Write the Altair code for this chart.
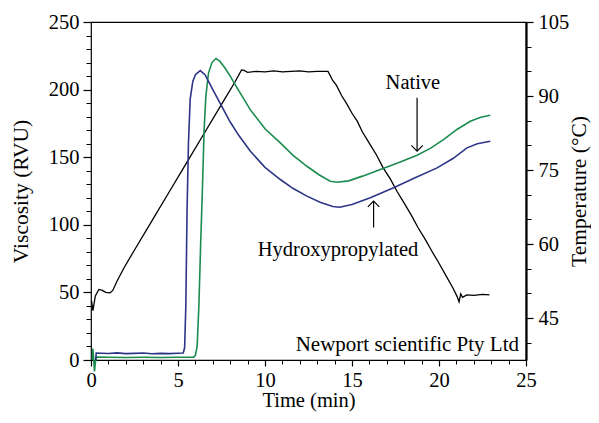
import altair as alt
import pandas as pd

# ---------------- data ----------------
temp_time = [0.03, 0.11, 0.25, 0.45, 0.65, 0.85, 1.1, 1.25, 1.5, 1.9, 2.5, 3.5, 4.5, 5.5, 6.5,
             7.5, 8.3, 8.65, 8.8, 9.0, 9.5, 10.0, 10.5, 11.0, 11.5, 12.0, 12.5, 13.0, 13.62,
             13.9, 14.1, 14.4, 14.7, 15.0, 15.3, 15.6, 16.0, 16.4, 16.8, 17.2, 17.6, 18.0,
             18.4, 18.8, 19.2, 19.6, 20.0, 20.4, 20.8, 21.05, 21.15, 21.25, 21.35, 21.6, 22.0,
             22.5, 22.9]
temp_vals = [48.5, 46.5, 49.5, 50.8, 50.6, 50.2, 50.1, 50.6, 52.5, 55.2, 58.8, 64.7, 70.6, 76.5,
             82.4, 88.3, 93.0, 95.3, 95.2, 94.8, 95.0, 94.9, 95.1, 94.9, 95.0, 95.1, 94.9, 95.0,
             95.0, 93.1, 92.2, 90.1, 88.4, 86.5, 84.9, 82.7, 80.4, 78.1, 75.4, 73.2, 70.6, 68.3,
             65.9, 63.3, 61.0, 58.5, 56.1, 53.6, 51.1, 49.3, 48.3, 49.9, 49.2, 49.7, 49.6, 49.8,
             49.7]

hp_time = [0.27, 0.3, 0.6, 1.0, 1.5, 2.0, 2.5, 3.0, 3.5, 4.0, 4.5, 5.0, 5.3, 5.38, 5.45, 5.52,
           5.6, 5.7, 5.85, 6.0, 6.28, 6.55, 6.8, 7.0, 7.5, 8.0, 8.5, 9.16, 10.0, 10.88, 11.6,
           12.41, 13.2, 13.9, 14.3, 15.0, 16.05, 17.39, 18.5, 19.89, 20.8, 21.61, 22.2, 22.95]
hp_visc = [0, 5.2, 5.0, 4.8, 5.3, 4.7, 4.9, 5.2, 4.6, 4.9, 4.7, 5.0, 5.2, 9, 40, 110, 160, 193,
           206, 211, 214, 211, 205, 200, 188, 176, 166, 154.4, 142.5, 133.5, 127, 121.2, 116.5,
           113.5, 113, 115, 120, 127.4, 134, 142.1, 149, 156.9, 160, 161.8]

nat_time = [0.08, 0.1, 0.15, 0.2, 0.25, 0.32, 1.0, 2.0, 3.0, 4.0, 5.0, 5.9, 6.0, 6.1, 6.2, 6.3,
            6.4, 6.5, 6.6, 6.75, 6.95, 7.18, 7.4, 7.7, 8.0, 8.5, 9.16, 10.0, 10.88, 11.6, 12.41,
            13.1, 13.75, 14.14, 14.8, 15.6, 16.63, 17.7, 18.74, 19.5, 20.26, 21.03, 21.8, 22.4,
            22.95]
nat_visc = [0, 8.5, 2, -8.5, -2, 2.2, 2.0, 1.9, 2.0, 1.9, 2.0, 2.1, 3.5, 10, 40, 85, 125, 170,
            195, 212, 220, 223, 221, 216, 210, 199, 185, 171, 160.6, 151.5, 143.3, 137, 132.2,
            131.5, 132.5, 136, 140.9, 146, 151.5, 156.5, 163, 170.5, 176.6, 179.5, 181]

x_major = [0, 5, 10, 15, 20, 25]
x_minor = list(range(0, 26))
visc_major = [0, 50, 100, 150, 200, 250]
visc_minor = list(range(0, 251, 10))
temp_major = [45, 60, 75, 90, 105]
temp_minor = list(range(40, 106, 5))

labels_text = ["Native", "Hydroxypropylated", "Newport scientific Pty Ltd"]
labels_t = [18.5, 14.2, 24.6]
labels_v = [205, 81, 11]
labels_align = ["center", "center", "right"]

arrow_t = [18.74, 16.24]
arrow_tail = [194, 98]
arrow_tip = [154.5, 117.5]
arrow_dir = ["down", "up"]

# ---------------- tables ----------------
df_temp = pd.DataFrame({"t": temp_time, "v": temp_vals})
df_hp = pd.DataFrame({"t": hp_time, "v": hp_visc})
df_nat = pd.DataFrame({"t": nat_time, "v": nat_visc})
df_lab = pd.DataFrame({"text": labels_text, "t": labels_t, "v": labels_v, "align": labels_align})
df_arr = pd.DataFrame({"t": arrow_t, "tail": arrow_tail, "tip": arrow_tip, "dir": arrow_dir})

FONT = "Liberation Serif"
XD = [0, 25]
VD = [0, 250]
TD = [36.5, 105]

def xs(axis=None):
    return alt.X("t:Q", scale=alt.Scale(domain=XD, nice=False, zero=False), axis=axis)

def ys(field, dom, axis=None):
    return alt.Y(f"{field}:Q", scale=alt.Scale(domain=dom, nice=False, zero=False), axis=axis)

common_lab = dict(labelFont=FONT, titleFont=FONT, titleFontWeight="normal", labelFlush=False,
                  labelColor="black", titleColor="black", tickColor="black", grid=False)

x_major_axis = alt.Axis(values=x_major, title="Time (min)", tickSize=6, labelFontSize=20.5,
                        titleFontSize=20.5, labelPadding=4, titlePadding=0, domain=False,
                        tickWidth=1.2, orient="bottom", **common_lab)
x_minor_axis = alt.Axis(values=x_minor, title=None, tickSize=4, labels=False, domain=False,
                        grid=False, tickColor="black", tickWidth=1, orient="bottom")
v_major_axis = alt.Axis(values=visc_major, title="Viscosity (RVU)", tickSize=8, labelFontSize=20.5,
                        titleFontSize=21.5, labelPadding=4, titlePadding=16, domain=False,
                        tickWidth=1.2, orient="left", **common_lab)
v_minor_axis = alt.Axis(values=visc_minor, title=None, tickSize=5, labels=False, domain=False,
                        grid=False, tickColor="black", tickWidth=1, orient="left")
t_major_axis = alt.Axis(values=temp_major, title="Temperature (°C)", tickSize=7, labelFontSize=20.5,
                        titleFontSize=21.5, labelPadding=5, titlePadding=22, titleAngle=270,
                        domain=True, domainWidth=2.2, domainColor="black",
                        tickWidth=1.2, orient="right", **common_lab)
t_minor_axis = alt.Axis(values=temp_minor, title=None, tickSize=5, labels=False, domain=False,
                        grid=False, tickColor="black", tickWidth=1, orient="right")

hp = alt.Chart(df_hp).mark_line(color="#2d3586", strokeWidth=1.6).encode(
    x=xs(x_major_axis), y=ys("v", VD, v_major_axis), order="t:Q")
nat = alt.Chart(df_nat).mark_line(color="#1c8b4f", strokeWidth=1.6).encode(
    x=xs(x_minor_axis), y=ys("v", VD, v_minor_axis), order="t:Q")
temp = alt.Chart(df_temp).mark_line(color="black", strokeWidth=1.3).encode(
    x=xs(), y=ys("v", TD, t_major_axis), order="t:Q")
temp_ticks = alt.Chart(df_temp).mark_line(strokeOpacity=0).encode(
    x=xs(), y=ys("v", TD, t_minor_axis), order="t:Q")

texts_c = alt.Chart(df_lab).transform_filter(alt.datum.align == "center").mark_text(
    font=FONT, fontSize=20.5, color="black", baseline="middle", align="center").encode(
    x=xs(), y=ys("v", VD), text="text:N")
texts_r = alt.Chart(df_lab).transform_filter(alt.datum.align == "right").mark_text(
    font=FONT, fontSize=21, color="black", baseline="middle", align="right").encode(
    x=xs(), y=ys("v", VD), text="text:N")

shafts = alt.Chart(df_arr).mark_rule(color="black", strokeWidth=1.2).encode(
    x=xs(), y=ys("tail", VD), y2="tip:Q")
head_down = alt.Chart(df_arr).transform_filter(alt.datum.dir == "down").mark_point(
    shape="M -1 -1 L 0 0 L 1 -1", filled=False, color="black", strokeWidth=1.2, size=130,
    opacity=1).encode(x=xs(), y=ys("tip", VD))
head_up = alt.Chart(df_arr).transform_filter(alt.datum.dir == "up").mark_point(
    shape="M -1 1 L 0 0 L 1 1", filled=False, color="black", strokeWidth=1.2, size=130,
    opacity=1).encode(x=xs(), y=ys("tip", VD))

chart = alt.layer(temp_ticks, temp, nat, hp, texts_c, texts_r, shafts, head_down, head_up).resolve_scale(
    x="independent", y="independent"
).properties(
    width=435, height=338,
    autosize="none",
    padding={"left": 83, "top": 14, "right": 65, "bottom": 55},
    background="white",
).configure_view(stroke="black", strokeWidth=1.2)

chart.save("out.html", embed_options={"renderer": "svg", "actions": False})
